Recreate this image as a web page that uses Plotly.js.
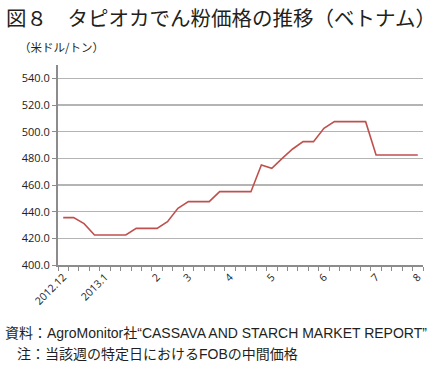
<!DOCTYPE html>
<html><head><meta charset="utf-8">
<script src="https://cdn.plot.ly/plotly-3.0.1.min.js"></script>
<style>html,body{margin:0;padding:0;background:#fff;}#c{width:435px;height:367px;}</style>
</head><body><div id="c"></div>
<script>
const prices = [435.5,435.5,431,422.5,422.5,422.5,422.5,427.5,427.5,427.5,432.5,442.5,447.5,447.5,447.5,455,455,455,455,475,472.5,480,487,492.5,492.5,502.5,507.5,507.5,507.5,507.5,482.5,482.5,482.5,482.5,482.5];
const tickPos = [0,4,9,12,16,20,25,30,34];
const tickText = ["2012.12","2013.1","2","3","4","5","6","7","8"];
const yTicks = [400,420,440,460,480,500,520,540];

const xs = prices.map((v,i)=>i);
const W=435,H=367,L=58,R=12,T=65,B=102;
const pw=W-L-R, ph=H-T-B;
const px = X => (X-L)/pw;
const py = Y => (H-B-Y)/ph;

const data=[{x:xs,y:prices,type:'scatter',mode:'lines',line:{color:'#c0504d',width:1.6},hoverinfo:'skip'}];
const cjk='"Noto Sans CJK JP", sans-serif';
const mixed='"Liberation Sans", "Noto Sans CJK JP", sans-serif';
const layout={
  width:W,height:H,margin:{l:L,r:R,t:T,b:B},
  paper_bgcolor:'#fff',plot_bgcolor:'#fff',showlegend:false,
  xaxis:{range:[-0.5,34.5],tickvals:tickPos,ticktext:tickText,tickangle:-45,ticks:'',
    showgrid:false,zeroline:false,showline:true,linecolor:'#8c8c8c',linewidth:2,
    tickfont:{family:'"Open Sans", sans-serif',size:10.5,color:'#222'},
    minor:{tick0:-0.5,dtick:1,ticks:'outside',ticklen:4,tickcolor:'#8c8c8c',tickwidth:1,showgrid:false}},
  yaxis:{range:[400,550],tickvals:yTicks,ticktext:yTicks.map(v=>v.toFixed(1)),
    showgrid:true,gridcolor:'#b4b4b4',gridwidth:1.3,zeroline:false,showline:true,linecolor:'#8c8c8c',linewidth:2,
    ticks:'outside',ticklen:4,tickcolor:'#8c8c8c',
    tickfont:{family:'"Open Sans", sans-serif',size:11,color:'#222'}},
  annotations:[
    {text:'図８　タピオカでん粉価格の推移（ベトナム）',xref:'paper',yref:'paper',x:px(4),y:py(17),xanchor:'left',yanchor:'middle',showarrow:false,font:{family:cjk,size:20.5,color:'#231f20'}},
    {text:'（米ドル/トン）',xref:'paper',yref:'paper',x:px(17),y:py(47),xanchor:'left',yanchor:'middle',showarrow:false,font:{family:cjk,size:11.5,color:'#231f20'}},
    {text:'資料：AgroMonitor社“CASSAVA AND STARCH MARKET REPORT”',xref:'paper',yref:'paper',x:px(3),y:py(333),xanchor:'left',yanchor:'middle',showarrow:false,font:{family:mixed,size:14,color:'#231f20'}},
    {text:'注：当該週の特定日におけるFOBの中間価格',xref:'paper',yref:'paper',x:px(15),y:py(354),xanchor:'left',yanchor:'middle',showarrow:false,font:{family:mixed,size:14,color:'#231f20'}}
  ]
};
Plotly.newPlot('c',data,layout,{staticPlot:true,displayModeBar:false});
</script></body></html>
